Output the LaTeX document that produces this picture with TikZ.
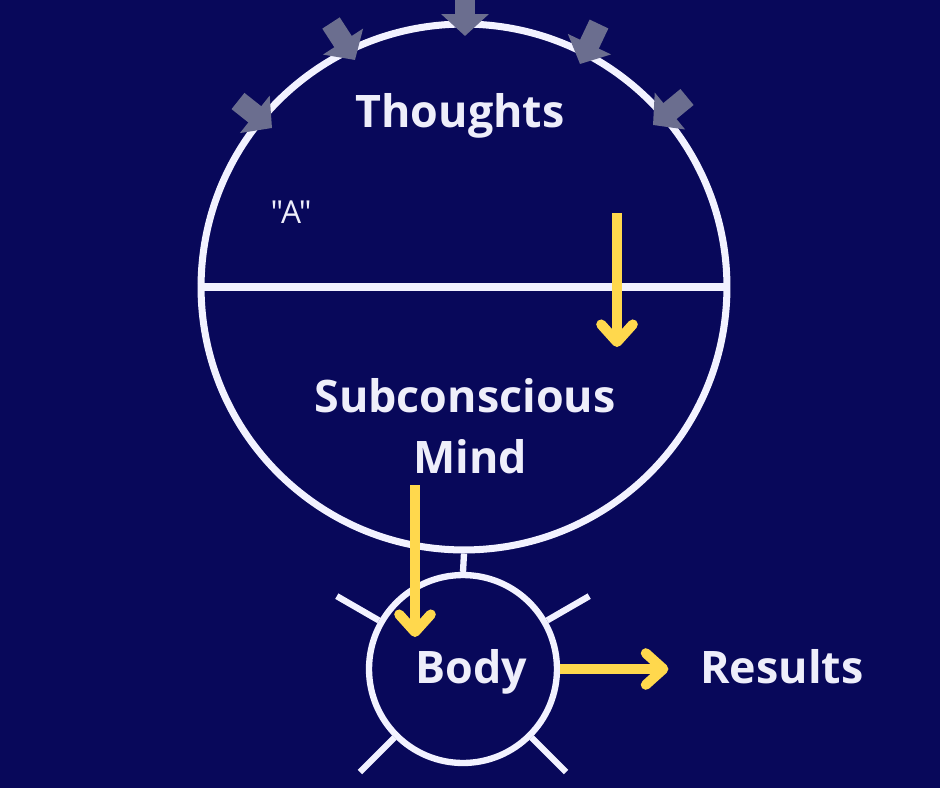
\documentclass[tikz,border=0pt]{standalone}
\usepackage{fontspec}
\setmainfont{Open Sans}
\newfontfamily\plainquotes{Open Sans}[Ligatures=ResetAll]
\usetikzlibrary{arrows.meta,positioning,calc}
\definecolor{NightBG}{HTML}{08085A}
\definecolor{RingWhite}{HTML}{F2F2FF}
\definecolor{LabelWhite}{HTML}{EEEEFA}
\definecolor{Gold}{HTML}{FFD84D}
\definecolor{Slate}{HTML}{6B6E8F}

\begin{document}
\begin{tikzpicture}[x=0.02cm,y=-0.02cm,
    ring/.style={draw=RingWhite,circle,line width=4pt,inner sep=0pt},
    rod/.style={RingWhite,line width=3.6pt},
    word/.style={text=LabelWhite,font=\fontsize{25.5}{34.7}\selectfont\bfseries,
                 inner sep=0pt,anchor=base},
    flow/.style={draw=Gold,line width=5.7pt,-{Straight Barb[round,length=10pt,width=18pt]}},
    thought/.style={draw=Slate,line width=11.8pt,-{Triangle[length=12.5pt,width=26.5pt]}}
  ]
  \fill[NightBG] (0,0) rectangle (940,788);
  \useasboundingbox (0,0) rectangle (940,788);

  % mind and body
  \node[ring,minimum size=10.52cm] (mind) at (464,287) {};
  \node[ring,minimum size=3.76cm,line width=3.6pt] (bodyring) at (463,669) {};
  \draw[rod,line width=4pt] (mind.west) -- (mind.east);
  \draw[rod] (mind.south) -- (bodyring.north);
  \draw[rod] (bodyring.150) -- ($(bodyring.center)!1.5!(bodyring.150)$);
  \draw[rod] (bodyring.30)  -- ($(bodyring.center)!1.5!(bodyring.30)$);
  \draw[rod] (bodyring.225) -- ($(bodyring.center)!1.5!(bodyring.225)$);
  \draw[rod] (bodyring.315) -- ($(bodyring.center)!1.5!(bodyring.315)$);

  % incoming thoughts
  \coordinate (from1) at (238,101); \coordinate (to1) at (272,128);
  \coordinate (from2) at (331,23);  \coordinate (to2) at (355,60);
  \coordinate (from3) at (465,-8);  \coordinate (to3) at (465,36);
  \coordinate (from4) at (599,24);  \coordinate (to4) at (580,64);
  \coordinate (from5) at (687,97);  \coordinate (to5) at (653,125);
  \draw[thought] (from1) -- (to1);
  \draw[thought] (from2) -- (to2);
  \draw[thought] (from3) -- (to3);
  \draw[thought] (from4) -- (to4);
  \draw[thought] (from5) -- (to5);

  % texts
  \node[word] (thoughts) at (460,127) {Thoughts};
  \node[word] (subconscious) at (465,412) {Subconscious};
  \node[word] (mindtext) at (470,473) {Mind};
  \node[word] (body) at (471,683) {Body};
  \node[word,anchor=base west] (results) at (700,683) {Results};
  \node[text=LabelWhite,font=\plainquotes\fontsize{18}{21}\selectfont,inner sep=0pt,anchor=base]
    (quoteA) at (291,223) {"A"};

  % yellow flow
  \coordinate (conscious) at (617,213);
  \coordinate (sinks) at (617,347);
  \draw[flow] (conscious) -- (sinks);
  \coordinate (impress) at (415,485);
  \coordinate (acts) at (415,637);
  \draw[flow] (impress) -- (acts);
  \draw[flow,shorten >=18pt] (bodyring.east) -- (bodyring.east -| results.west);
\end{tikzpicture}
\end{document}
